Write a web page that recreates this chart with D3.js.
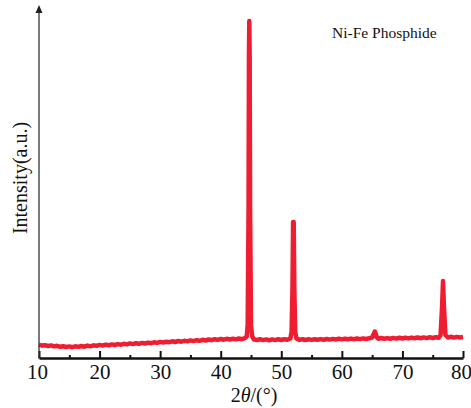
<!DOCTYPE html>
<html>
<head>
<meta charset="utf-8">
<script src="https://cdn.jsdelivr.net/npm/d3@7"></script>
<style>
  body { margin: 0; background: #fff; }
  text { font-family: "Liberation Serif", "Times New Roman", serif; }
</style>
</head>
<body>
<div class="chart-area"></div>
<script>
// 2theta positions and intensities (a.u.)
var theta = [
  10.0, 10.5, 11.0, 11.5, 12.0, 12.5, 13.0, 13.5, 14.0, 14.5,
  15.0, 15.5, 16.0, 16.5, 17.0, 17.5, 18.0, 18.5, 19.0, 19.5,
  20.0, 20.5, 21.0, 21.5, 22.0, 22.5, 23.0, 23.5, 24.0, 24.5,
  25.0, 25.5, 26.0, 26.5, 27.0, 27.5, 28.0, 28.5, 29.0, 29.5,
  30.0, 30.5, 31.0, 31.5, 32.0, 32.5, 33.0, 33.5, 34.0, 34.5,
  35.0, 35.5, 36.0, 36.5, 37.0, 37.5, 38.0, 38.5, 39.0, 39.5,
  40.0, 40.5, 41.0, 41.5, 42.0, 42.5, 43.0, 43.5, 44.0,
  44.3, 44.45, 44.6, 44.66, 44.72, 44.78, 44.85, 45.0, 45.2,
  45.5, 46.0, 46.5, 47.0, 47.5, 48.0, 48.5, 49.0, 49.5, 50.0,
  50.5, 51.0, 51.5, 51.7, 51.85, 51.95, 52.05, 52.15, 52.3, 52.5,
  53.0, 53.5, 54.0, 54.5, 55.0, 55.5, 56.0, 56.5, 57.0, 57.5,
  58.0, 58.5, 59.0, 59.5, 60.0, 60.5, 61.0, 61.5, 62.0, 62.5,
  63.0, 63.5, 64.0, 64.5, 65.0, 65.45, 65.8, 66.0, 66.5, 67.0,
  67.5, 68.0, 68.5, 69.0, 69.5, 70.0, 70.5, 71.0, 71.5, 72.0,
  72.5, 73.0, 73.5, 74.0, 74.5, 75.0, 75.5, 76.0, 76.3, 76.55,
  76.7, 76.85, 77.1, 77.5, 78.0, 78.5, 79.0, 79.5, 80.0
];
var counts = [
  132, 124, 128, 120, 126, 116, 122, 112, 118, 110,
  116, 108, 117, 111, 120, 113, 124, 117, 127, 121,
  131, 124, 134, 128, 136, 130, 139, 133, 142, 136,
  146, 139, 148, 142, 151, 145, 154, 148, 157, 151,
  161, 155, 163, 158, 167, 160, 170, 163, 172, 166,
  176, 169, 178, 172, 182, 175, 185, 178, 188, 181,
  190, 183, 192, 185, 193, 186, 195, 188, 198,
  215, 330, 1500, 3000, 3370, 3000, 1500, 330, 215,
  185, 180, 187, 179, 186, 178, 186, 179, 187, 180,
  188, 182, 195, 260, 700, 1360, 1360, 700, 260, 195,
  181, 188, 180, 187, 181, 188, 182, 189, 183, 190,
  184, 191, 185, 192, 186, 193, 187, 194, 188, 195,
  189, 196, 190, 197, 205, 265, 205, 193, 200, 192,
  199, 193, 201, 194, 202, 195, 203, 196, 204, 197,
  205, 198, 206, 199, 207, 200, 208, 203, 230, 520,
  770, 520, 230, 205, 212, 204, 211, 205, 210
];
var xTicks = [10, 20, 30, 40, 50, 60, 70, 80];
var xMinorTicks = [15, 25, 35, 45, 55, 65, 75];

var width = 471, height = 408;

var svg = d3.select(".chart-area").append("svg")
    .attr("width", width)
    .attr("height", height);

var x = d3.scaleLinear().domain([10, 80]).range([39, 463]);
var y = d3.scaleLinear().domain([0, 3500]).range([358, 8]);

// the pattern
var line = d3.line()
    .x(function(d, i) { return x(theta[i]); })
    .y(function(d) { return y(d); });

svg.append("path")
    .datum(counts)
    .attr("fill", "none")
    .attr("stroke", "#ee1d31")
    .attr("stroke-width", 4.5)
    .attr("stroke-linejoin", "round")
    .attr("d", line);

// minor ticks
svg.append("g")
    .attr("transform", "translate(0,358)")
    .call(d3.axisBottom(x).tickValues(xMinorTicks).tickSize(-3).tickFormat(""))
    .call(function(g) { g.select(".domain").remove(); })
    .selectAll("line").attr("stroke", "#111").attr("stroke-width", 2);

// x axis with inward major ticks
var xAxis = svg.append("g")
    .attr("transform", "translate(0,358)")
    .call(d3.axisBottom(x).tickValues(xTicks).tickSizeInner(-7).tickSizeOuter(0).tickPadding(6))
    .attr("font-family", "'Liberation Serif', serif")
    .attr("font-size", 21);

xAxis.select(".domain").attr("stroke", "#111").attr("stroke-width", 2.5);
xAxis.selectAll("line").attr("stroke", "#111").attr("stroke-width", 2);
xAxis.selectAll("text")
    .attr("fill", "#111")
    .attr("dx", function(d) { return d === 80 ? -2 : d === 10 ? -2 : 0; });

// y axis with arrow
svg.append("line")
    .attr("x1", x(10)).attr("x2", x(10))
    .attr("y1", 359).attr("y2", 12)
    .attr("stroke", "#333")
    .attr("stroke-width", 1.3);

svg.append("path")
    .attr("d", "M" + x(10) + ",5 L" + (x(10) - 3.5) + ",13 L" + (x(10) + 3.5) + ",13 Z")
    .attr("fill", "#222");

// axis titles
var xTitle = svg.append("text")
    .attr("x", 254)
    .attr("y", 402)
    .attr("text-anchor", "middle")
    .attr("font-size", "20px")
    .attr("fill", "#111");
xTitle.append("tspan").text("2");
xTitle.append("tspan").attr("font-style", "italic").text("θ");
xTitle.append("tspan").text("/(°)");

svg.append("text")
    .attr("transform", "translate(27,178) rotate(-90)")
    .attr("text-anchor", "middle")
    .attr("font-size", "20px")
    .attr("fill", "#111")
    .text("Intensity(a.u.)");

// legend label
svg.append("text")
    .attr("x", 332)
    .attr("y", 38)
    .attr("font-size", "15.5px")
    .attr("fill", "#111")
    .text("Ni-Fe Phosphide");
</script>
</body>
</html>
